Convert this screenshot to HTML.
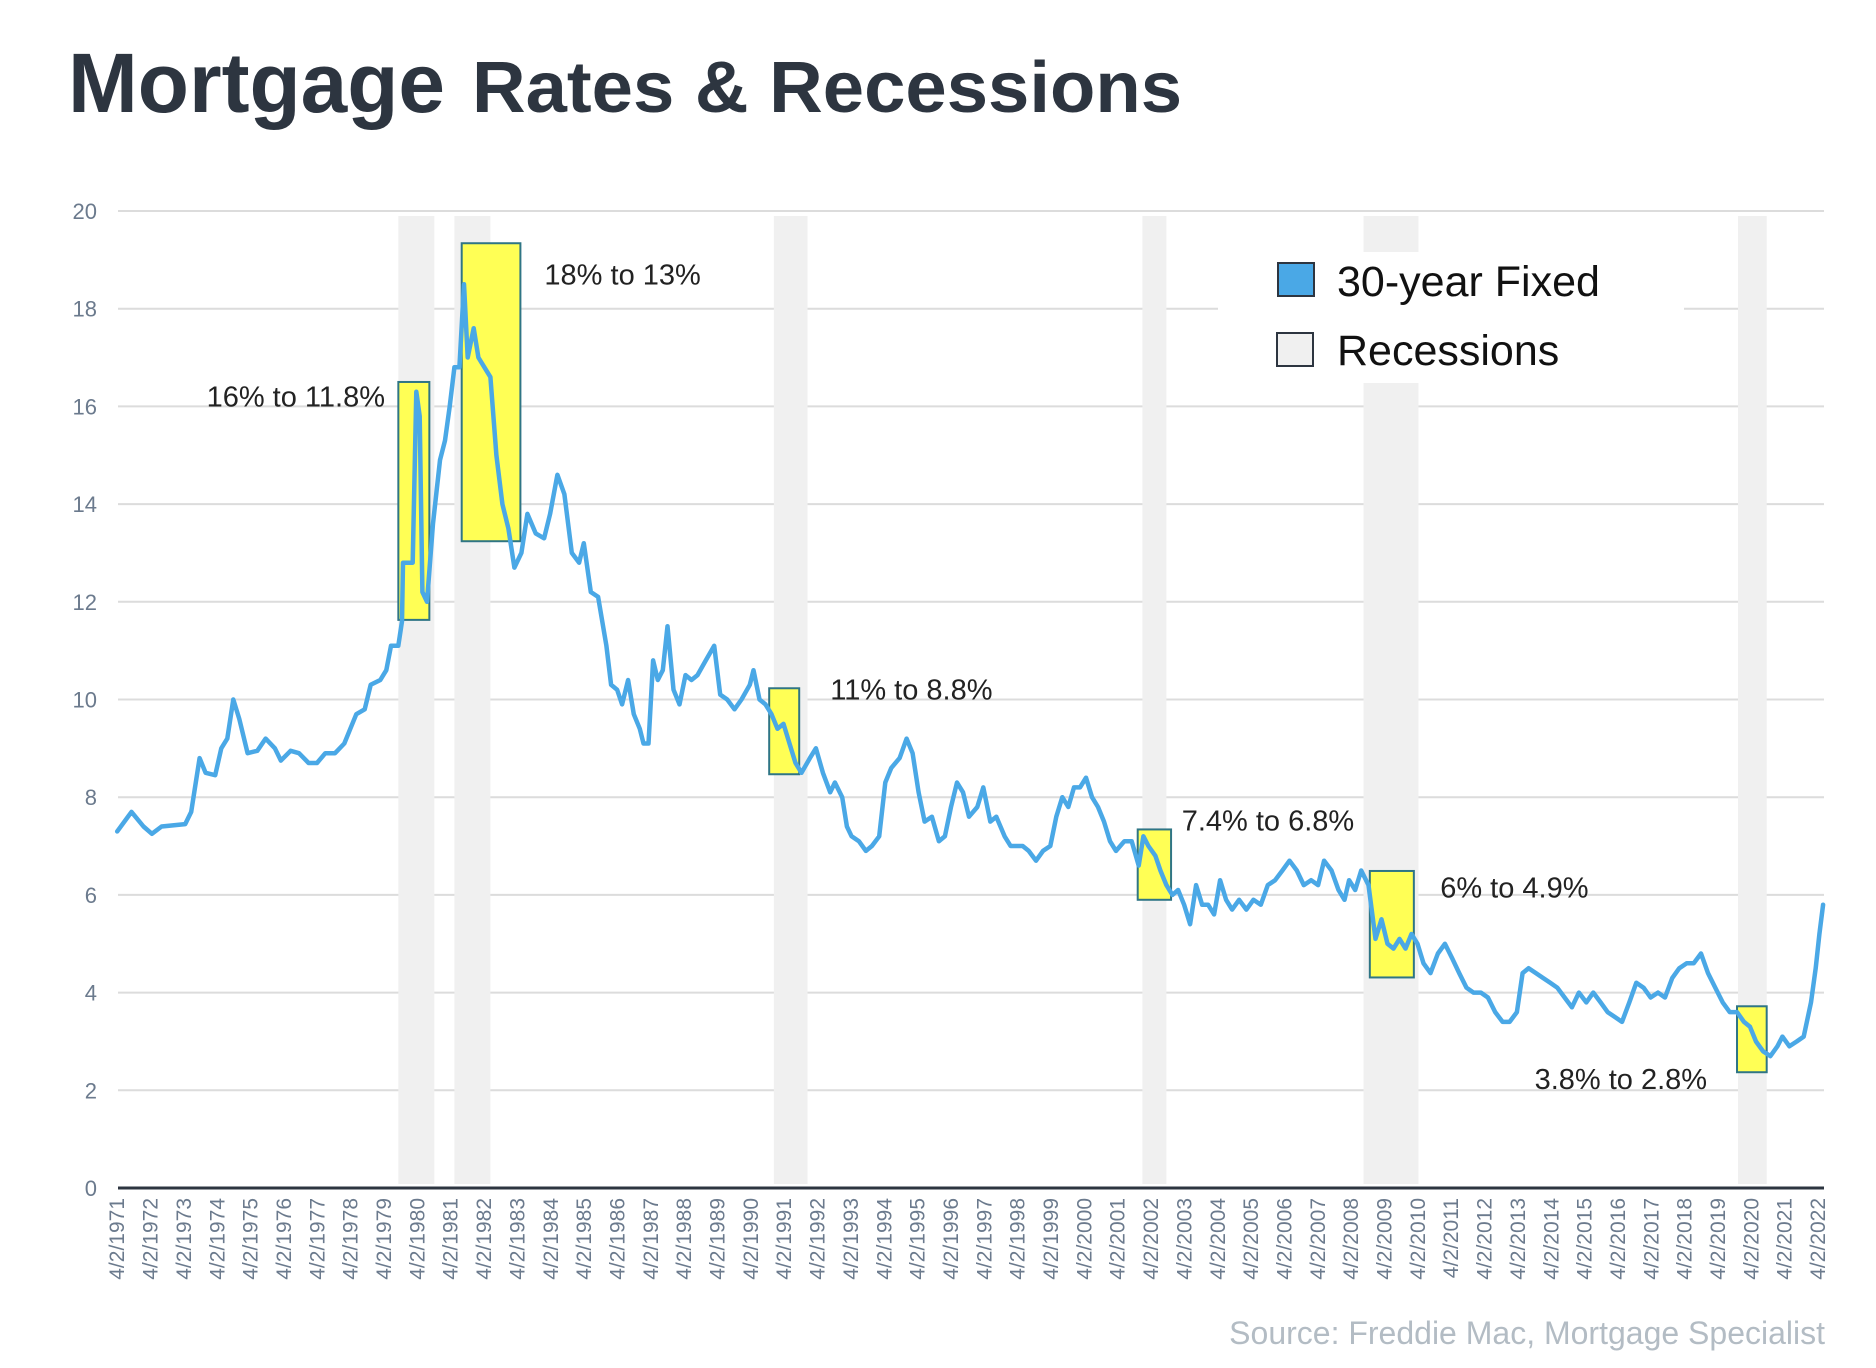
<!DOCTYPE html>
<html><head><meta charset="utf-8"><style>
html,body{margin:0;padding:0;background:#fff;}
svg{display:block;font-family:"Liberation Sans",Arial,sans-serif;}
</style></head><body>
<svg id="chart" width="1876" height="1368" viewBox="0 0 1876 1368">
<text x="68" y="112" font-size="84" font-weight="bold" fill="#2d3540" textLength="377" lengthAdjust="spacingAndGlyphs">Mortgage</text>
<text x="472" y="112" font-size="72" font-weight="bold" fill="#2d3540" textLength="710" lengthAdjust="spacingAndGlyphs">Rates &amp; Recessions</text>
<g id="grid"></g>
<g id="rec"></g>
<rect x="1218" y="252" width="466" height="131" fill="#fff"/>
<g id="yel"></g>
<g id="line"></g>
<g id="axes"></g>
<g id="ann"></g>
<g>
<rect x="1278" y="263" width="36" height="33" fill="#4aa8e6" stroke="#2d3540" stroke-width="2"/>
<text x="1337" y="296" font-size="43" fill="#111">30-year Fixed</text>
<rect x="1277" y="333" width="36" height="33" fill="#f0f0f0" stroke="#2d3540" stroke-width="2"/>
<text x="1337" y="365" font-size="43" fill="#111">Recessions</text>
</g>
<text x="1825" y="1344" font-size="32" fill="#b3bcc4" text-anchor="end">Source: Freddie Mac, Mortgage Specialist</text>
</svg>
<script>
const years=[1971.25,1971.68,1972.04,1972.29,1972.58,1973.29,1973.47,1973.72,1973.90,1974.19,1974.37,1974.55,1974.73,1974.91,1975.16,1975.45,1975.70,1975.98,1976.16,1976.45,1976.70,1976.99,1977.24,1977.49,1977.78,1978.06,1978.24,1978.42,1978.67,1978.85,1979.14,1979.32,1979.46,1979.68,1979.79,1979.82,1980.11,1980.22,1980.32,1980.40,1980.54,1980.72,1980.93,1981.08,1981.22,1981.36,1981.51,1981.65,1981.76,1981.94,1982.08,1982.26,1982.44,1982.62,1982.80,1982.98,1983.16,1983.37,1983.55,1983.80,1984.05,1984.23,1984.45,1984.66,1984.88,1985.10,1985.24,1985.45,1985.67,1985.92,1986.06,1986.24,1986.39,1986.57,1986.74,1986.92,1987.03,1987.18,1987.32,1987.46,1987.61,1987.75,1987.93,1988.11,1988.29,1988.47,1988.65,1988.90,1989.15,1989.33,1989.54,1989.76,1989.97,1990.22,1990.33,1990.51,1990.69,1990.87,1991.05,1991.23,1991.41,1991.59,1991.77,1992.02,1992.20,1992.41,1992.63,1992.77,1992.99,1993.13,1993.27,1993.49,1993.70,1993.88,1994.10,1994.28,1994.46,1994.71,1994.92,1995.10,1995.28,1995.46,1995.68,1995.89,1996.07,1996.25,1996.43,1996.61,1996.79,1997.04,1997.22,1997.43,1997.61,1997.86,1998.04,1998.22,1998.40,1998.58,1998.80,1999.01,1999.23,1999.41,1999.59,1999.77,1999.94,2000.12,2000.30,2000.48,2000.66,2000.84,2001.02,2001.20,2001.45,2001.67,2001.88,2002.02,2002.17,2002.38,2002.53,2002.71,2002.89,2003.06,2003.24,2003.42,2003.60,2003.78,2003.96,2004.14,2004.32,2004.50,2004.68,2004.89,2005.11,2005.32,2005.54,2005.75,2005.97,2006.19,2006.40,2006.62,2006.83,2007.05,2007.26,2007.44,2007.66,2007.87,2008.05,2008.19,2008.37,2008.55,2008.77,2008.98,2009.16,2009.34,2009.52,2009.70,2009.88,2010.06,2010.24,2010.42,2010.63,2010.85,2011.06,2011.28,2011.49,2011.71,2011.92,2012.14,2012.35,2012.57,2012.79,2013.00,2013.22,2013.39,2013.57,2013.79,2014.00,2014.22,2014.43,2014.65,2014.87,2015.08,2015.30,2015.51,2015.73,2015.94,2016.16,2016.37,2016.59,2016.80,2017.02,2017.23,2017.45,2017.66,2017.88,2018.09,2018.31,2018.52,2018.74,2018.95,2019.17,2019.39,2019.60,2019.82,2020.03,2020.21,2020.39,2020.60,2020.82,2021.03,2021.18,2021.39,2021.61,2021.82,2022.04,2022.18,2022.29,2022.40];
const rates=[7.3,7.7,7.4,7.25,7.4,7.45,7.7,8.8,8.5,8.45,9.0,9.2,10.0,9.6,8.9,8.95,9.2,9.0,8.75,8.95,8.9,8.7,8.7,8.9,8.9,9.1,9.4,9.7,9.8,10.3,10.4,10.6,11.1,11.1,11.6,12.8,12.8,16.3,15.8,12.2,12.0,13.6,14.9,15.3,16.0,16.8,16.8,18.5,17.0,17.6,17.0,16.8,16.6,15.0,14.0,13.5,12.7,13.0,13.8,13.4,13.3,13.8,14.6,14.2,13.0,12.8,13.2,12.2,12.1,11.1,10.3,10.2,9.9,10.4,9.7,9.4,9.1,9.1,10.8,10.4,10.6,11.5,10.2,9.9,10.5,10.4,10.5,10.8,11.1,10.1,10.0,9.8,10.0,10.3,10.6,10.0,9.9,9.7,9.4,9.5,9.1,8.7,8.5,8.8,9.0,8.5,8.1,8.3,8.0,7.4,7.2,7.1,6.9,7.0,7.2,8.3,8.6,8.8,9.2,8.9,8.1,7.5,7.6,7.1,7.2,7.8,8.3,8.1,7.6,7.8,8.2,7.5,7.6,7.2,7.0,7.0,7.0,6.9,6.7,6.9,7.0,7.6,8.0,7.8,8.2,8.2,8.4,8.0,7.8,7.5,7.1,6.9,7.1,7.1,6.6,7.2,7.0,6.8,6.5,6.2,6.0,6.1,5.8,5.4,6.2,5.8,5.8,5.6,6.3,5.9,5.7,5.9,5.7,5.9,5.8,6.2,6.3,6.5,6.7,6.5,6.2,6.3,6.2,6.7,6.5,6.1,5.9,6.3,6.1,6.5,6.2,5.1,5.5,5.0,4.9,5.1,4.9,5.2,5.0,4.6,4.4,4.8,5.0,4.7,4.4,4.1,4.0,4.0,3.9,3.6,3.4,3.4,3.6,4.4,4.5,4.4,4.3,4.2,4.1,3.9,3.7,4.0,3.8,4.0,3.8,3.6,3.5,3.4,3.8,4.2,4.1,3.9,4.0,3.9,4.3,4.5,4.6,4.6,4.8,4.4,4.1,3.8,3.6,3.6,3.4,3.3,3.0,2.8,2.7,2.9,3.1,2.9,3.0,3.1,3.8,4.5,5.2,5.8];
const yTicks=[0,2,4,6,8,10,12,14,16,18,20];
const xTickYears=[1971,1972,1973,1974,1975,1976,1977,1978,1979,1980,1981,1982,1983,1984,1985,1986,1987,1988,1989,1990,1991,1992,1993,1994,1995,1996,1997,1998,1999,2000,2001,2002,2003,2004,2005,2006,2007,2008,2009,2010,2011,2012,2013,2014,2015,2016,2017,2018,2019,2020,2021,2022];
const recStart=[1979.68,1981.36,1990.94,2001.99,2008.62,2019.85];
const recEnd=[1980.76,1982.44,1991.95,2002.71,2010.27,2020.71];
const boxStart=[1979.68,1981.58,1990.80,2001.85,2008.81,2019.82];
const boxEnd=[1980.61,1983.34,1991.70,2002.85,2010.13,2020.71];
const boxHigh=[16.5,19.34,10.23,7.34,6.49,3.72];
const boxLow=[11.63,13.24,8.47,5.90,4.31,2.37];
const annLabels=["16% to 11.8%","18% to 13%","11% to 8.8%","7.4% to 6.8%","6% to 4.9%","3.8% to 2.8%"];
const annYear=[1979.28,1984.06,1992.63,2003.17,2010.92,2013.75];
const annRate=[16.0,18.5,10.0,7.32,5.95,2.03];
const annAnchor=["end","start","start","start","start","start"];

const NS="http://www.w3.org/2000/svg";
const X=y=>117.2+(y-1971.25)*33.35;
const Y=v=>1188-v*48.85;
function mk(tag,attrs,parent){const e=document.createElementNS(NS,tag);for(const k in attrs)e.setAttribute(k,attrs[k]);parent.appendChild(e);return e;}
const grid=document.getElementById('grid'),rec=document.getElementById('rec'),yel=document.getElementById('yel'),line=document.getElementById('line'),axes=document.getElementById('axes'),ann=document.getElementById('ann');

yTicks.forEach(t=>{
  if(t>0){const g=mk('line',{x1:118,x2:1824,y1:Y(t),y2:Y(t),stroke:'#dcdcdc','stroke-width':2},grid);
  
  }
  const l=mk('text',{x:97,y:Y(t)+8,'font-size':22,fill:'#6b7a8d','text-anchor':'end'},axes);
  l.textContent=t;
  
  
});
recStart.forEach((s,i)=>{
  const r=mk('rect',{x:X(s),y:216,width:X(recEnd[i])-X(s),height:968,fill:'#f0f0f0'},rec);
  
  
});
boxStart.forEach((s,i)=>{
  const r=mk('rect',{x:X(s),y:Y(boxHigh[i]),width:X(boxEnd[i])-X(s),height:Y(boxLow[i])-Y(boxHigh[i]),fill:'#ffff55',stroke:'#2f7585','stroke-width':2},yel);
  
  
});
const d=years.map((y,i)=>(i?'L':'M')+X(y).toFixed(1)+','+Y(rates[i]).toFixed(1)).join('');
const p=mk('path',{d:d,fill:'none',stroke:'#4aa8e6','stroke-width':4.5,'stroke-linejoin':'round','stroke-linecap':'round'},line);


const ax=mk('line',{x1:118,x2:1824,y1:1188,y2:1188,stroke:'#2d3540','stroke-width':3},axes);


xTickYears.forEach(yr=>{
  const x=X(yr+0.25);
  const t=mk('text',{x:0,y:0,'font-size':21,fill:'#6b7a8d','text-anchor':'end',transform:'translate('+(x+7).toFixed(1)+',1198) rotate(-90)'},axes);
  t.textContent='4/2/'+yr;
  
  
});
annLabels.forEach((s,i)=>{
  const t=mk('text',{x:X(annYear[i]),y:Y(annRate[i]),'font-size':29,fill:'#222','text-anchor':annAnchor[i]},ann);
  t.textContent=s;
  
  
});
</script>
</body></html>
